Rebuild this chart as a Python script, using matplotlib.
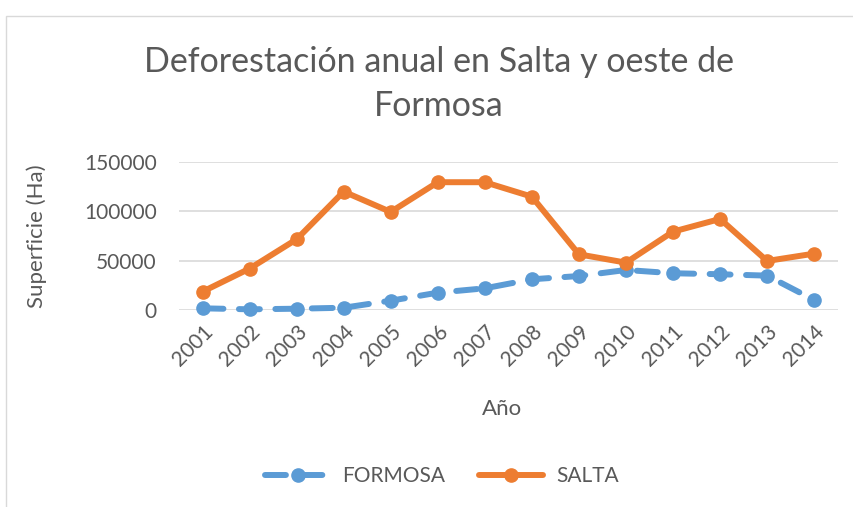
import matplotlib
matplotlib.use("Agg")
import matplotlib.pyplot as plt
from matplotlib.patches import Rectangle

years = ['2001', '2002', '2003', '2004', '2005', '2006', '2007',
         '2008', '2009', '2010', '2011', '2012', '2013', '2014']
formosa = [2000, 1000, 1600, 2600, 9700, 17800, 22200,
           31300, 34600, 40700, 37400, 36400, 35000, 10400]
salta = [18800, 42100, 71700, 119800, 99300, 129300, 129300,
         114700, 56500, 48100, 79400, 92200, 49800, 57200]
yticks = [0, 50000, 100000, 150000]

blue = '#5B9BD5'
orange = '#ED7D31'
grey = '#595959'

plt.rcParams['font.family'] = ['Lato', 'DejaVu Sans']

fig = plt.figure(figsize=(8.54, 5.07), dpi=100)
fig.patches.append(Rectangle((6 / 854, -0.1), 1.1, 1 - 16 / 507 + 0.1,
                             transform=fig.transFigure, fill=False,
                             edgecolor='#d9d9d9', lw=1))

ax = fig.add_axes([179 / 854, 1 - 310.3 / 507, (837.7 - 179) / 854, (310.3 - 161.7) / 507])
x = list(range(len(years)))

ax.plot(x, formosa, color=blue, lw=4.3, marker='o', ms=9.5,
        dashes=(3.5, 2.6), dash_capstyle='round', solid_capstyle='round',
        label='FORMOSA', clip_on=False, zorder=3)
ax.plot(x, salta, color=orange, lw=4.3, marker='o', ms=9.5,
        solid_capstyle='round', label='SALTA', clip_on=False, zorder=4)

ax.set_xlim(-0.5, len(years) - 0.5)
ax.set_ylim(0, 150000)
ax.set_yticks(yticks)
ax.set_yticklabels([str(v) for v in yticks])
ax.set_xticks(x)
ax.set_xticklabels(years, rotation=45, ha='right', rotation_mode='anchor')
ax.grid(axis='y', color='#d9d9d9', lw=1.2)
ax.set_axisbelow(True)
for s in ax.spines.values():
    s.set_visible(False)
ax.tick_params(length=0, colors=grey, labelsize=15)
ax.tick_params(axis='y', pad=16)
ax.tick_params(axis='x', pad=8)

ax.set_ylabel('Superficie (Ha)', fontsize=16, color=grey)
ax.set_xlabel('Año', fontsize=16, color=grey)
ax.xaxis.set_label_coords(0.49, -0.6)
ax.yaxis.set_label_coords(-0.2, 0.5)

fig.text(439 / 854, 1 - 62 / 507, 'Deforestación anual en Salta y oeste de',
         ha='center', va='center', fontsize=24.5, color=grey)
fig.text(439 / 854, 1 - 106 / 507, 'Formosa',
         ha='center', va='center', fontsize=24.5, color=grey)

fig.legend(loc='center', bbox_to_anchor=(442 / 854, 1 - 476 / 507), ncol=2,
           frameon=False, fontsize=15, handlelength=3.1, handletextpad=0.6,
           columnspacing=1.6, labelcolor=grey)

fig.savefig('out.png', dpi=100)
